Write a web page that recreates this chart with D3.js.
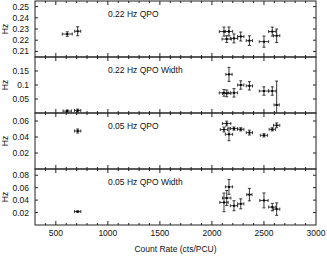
<!DOCTYPE html>
<html>
<head>
<meta charset="utf-8">
<script src="https://cdn.jsdelivr.net/npm/d3@7"></script>
<style>
	body { margin: 0; background: #fff; }
	text { font-family: "Liberation Sans", Arial, sans-serif; fill: #111; }
</style>
</head>
<body>
<svg id="chart" width="327" height="256"></svg>
<script>
const width = 327,
	height = 256;

const left = 35,
	right = 316,
	top0 = 1,
	panelH = 56;

const xRange = [300, 3000];
const xMajor = [500, 1000, 1500, 2000, 2500, 3000];
const xMinor = d3.range(400, 3000, 100);

// [rate, rate error, value, value error]
const qpo22 = [
	[610, 48, 0.2255, 0.002], [710, 29, 0.228, 0.004],
	[2116, 45, 0.2277, 0.004], [2164, 35, 0.2278, 0.004], [2142, 45, 0.221, 0.003],
	[2212, 35, 0.2216, 0.004], [2277, 30, 0.2233, 0.004], [2360, 30, 0.2196, 0.0043],
	[2500, 45, 0.2187, 0.005], [2580, 35, 0.2277, 0.004], [2622, 30, 0.224, 0.006]
];
const width22 = [
	[610, 40, 0.007, 0.004], [710, 30, 0.009, 0.005],
	[2116, 45, 0.072, 0.012], [2142, 40, 0.07, 0.012], [2164, 30, 0.138, 0.025],
	[2212, 35, 0.072, 0.015], [2277, 30, 0.1, 0.015], [2360, 30, 0.097, 0.015],
	[2500, 45, 0.0785, 0.015], [2580, 35, 0.0785, 0.015], [2622, 25, 0.029, 0.085]
];
const qpo05 = [
	[710, 30, 0.0475, 0.0025],
	[2116, 35, 0.0493, 0.003], [2142, 40, 0.0568, 0.003], [2164, 35, 0.0434, 0.008],
	[2212, 35, 0.0505, 0.002], [2277, 30, 0.0496, 0.002], [2360, 30, 0.0455, 0.003],
	[2500, 35, 0.0421, 0.002], [2580, 30, 0.0496, 0.002], [2622, 30, 0.0546, 0.003]
];
const width05 = [
	[710, 30, 0.0216, 0.001],
	[2116, 40, 0.0363, 0.015], [2142, 40, 0.0434, 0.012], [2164, 35, 0.0613, 0.012],
	[2212, 35, 0.031, 0.008], [2277, 30, 0.034, 0.008], [2360, 25, 0.0488, 0.01],
	[2500, 40, 0.0395, 0.012], [2580, 35, 0.0288, 0.006], [2622, 30, 0.0255, 0.01]
];

const panels = [
	{title: "0.22 Hz QPO", data: qpo22, domain: [0.205, 0.255], ticks: [0.21, 0.22, 0.23, 0.24, 0.25], labels: ["0.21", "0.22", "0.23", "0.24", "0.25"]},
	{title: "0.22 Hz QPO Width", data: width22, domain: [0, 0.2], ticks: [0.05, 0.1, 0.15], labels: ["0.05", "0.1", "0.15"]},
	{title: "0.05 Hz QPO", data: qpo05, domain: [0, 0.07], ticks: [0.02, 0.04, 0.06], labels: ["0.02", "0.04", "0.06"]},
	{title: "0.05 Hz QPO Width", data: width05, domain: [0, 0.09], ticks: [0.02, 0.04, 0.06, 0.08], labels: ["0.02", "0.04", "0.06", "0.08"]}
];

const xScale = d3.scaleLinear()
	.domain(xRange)
	.range([left, right]);

const svg = d3.select("#chart");
const ink = "#222";

panels.forEach((p, i) => {
	const y0 = top0 + i * panelH,
		y1 = y0 + panelH;

	const yScale = d3.scaleLinear()
		.domain(p.domain)
		.range([y1, y0]);

	const g = svg.append("g");

	// x ticks on top and bottom, pointing inward
	const xt = xMinor.map(v => ({v: v, major: v % 500 === 0}));
	g.selectAll("line.xb")
		.data(xt)
		.join("line")
		.attr("x1", d => xScale(d.v)).attr("x2", d => xScale(d.v))
		.attr("y1", y1).attr("y2", d => y1 - (d.major ? 4 : 2))
		.attr("stroke", ink);
	g.selectAll("line.xt")
		.data(xt)
		.join("line")
		.attr("class", "xt")
		.attr("x1", d => xScale(d.v)).attr("x2", d => xScale(d.v))
		.attr("y1", y0).attr("y2", d => y0 + (d.major ? 4 : 2))
		.attr("stroke", ink);

	// y ticks left and right
	g.selectAll("line.yl")
		.data(p.ticks)
		.join("line")
		.attr("class", "yl")
		.attr("x1", left).attr("x2", left + 3)
		.attr("y1", d => yScale(d)).attr("y2", d => yScale(d))
		.attr("stroke", ink);
	g.selectAll("line.yr")
		.data(p.ticks)
		.join("line")
		.attr("class", "yr")
		.attr("x1", right).attr("x2", right - 3)
		.attr("y1", d => yScale(d)).attr("y2", d => yScale(d))
		.attr("stroke", ink);

	g.selectAll("text.ylab")
		.data(p.ticks)
		.join("text")
		.attr("class", "ylab")
		.attr("x", 29)
		.attr("y", d => yScale(d) + 3)
		.attr("text-anchor", "end")
		.attr("font-size", 8.5)
		.text((d, k) => p.labels[k]);

	g.append("text")
		.attr("transform", `translate(8,${(y0 + y1) / 2}) rotate(-90)`)
		.attr("text-anchor", "middle")
		.attr("font-size", 8.5)
		.text("Hz");

	g.append("text")
		.attr("x", 108)
		.attr("y", y0 + 16)
		.attr("font-size", 8.5)
		.text(p.title);

	// error bars
	const eb = g.selectAll("g.pt")
		.data(p.data)
		.join("g")
		.attr("class", "pt")
		.attr("stroke", ink)
		.attr("stroke-width", 0.9);

	eb.append("line")
		.attr("x1", d => xScale(d[0] - d[1])).attr("x2", d => xScale(d[0] + d[1]))
		.attr("y1", d => yScale(d[2])).attr("y2", d => yScale(d[2]));
	eb.append("line")
		.attr("x1", d => xScale(d[0])).attr("x2", d => xScale(d[0]))
		.attr("y1", d => Math.min(y1, yScale(d[2] - d[3]))).attr("y2", d => Math.max(y0, yScale(d[2] + d[3])));
	// caps
	eb.append("path")
		.attr("fill", "none")
		.attr("d", d => {
			const cx = xScale(d[0]), cy = yScale(d[2]);
			const xl = xScale(d[0] - d[1]), xr = xScale(d[0] + d[1]);
			const yb = yScale(d[2] - d[3]), yt = yScale(d[2] + d[3]);
			let s = `M${xl},${cy - 1.5}V${cy + 1.5}M${xr},${cy - 1.5}V${cy + 1.5}`;
			if (yt >= y0) s += `M${cx - 1.5},${yt}H${cx + 1.5}`;
			if (yb <= y1) s += `M${cx - 1.5},${yb}H${cx + 1.5}`;
			return s;
		});
	eb.append("rect")
		.attr("x", d => xScale(d[0]) - 1)
		.attr("y", d => yScale(d[2]) - 1)
		.attr("width", 2).attr("height", 2)
		.attr("fill", "#000")
		.attr("stroke", "none");

	// frame
	g.append("rect")
		.attr("x", left).attr("y", y0)
		.attr("width", right - left).attr("height", panelH)
		.attr("fill", "none")
		.attr("stroke", ink);
});

const yBottom = top0 + panels.length * panelH;

svg.selectAll("text.xlab")
	.data(xMajor)
	.join("text")
	.attr("class", "xlab")
	.attr("x", d => xScale(d))
	.attr("y", yBottom + 11)
	.attr("text-anchor", "middle")
	.attr("font-size", 8.5)
	.text(d => d);

svg.append("text")
	.attr("x", (left + right) / 2)
	.attr("y", yBottom + 27)
	.attr("text-anchor", "middle")
	.attr("font-size", 8.5)
	.text("Count Rate (cts/PCU)");
</script>
</body>
</html>
